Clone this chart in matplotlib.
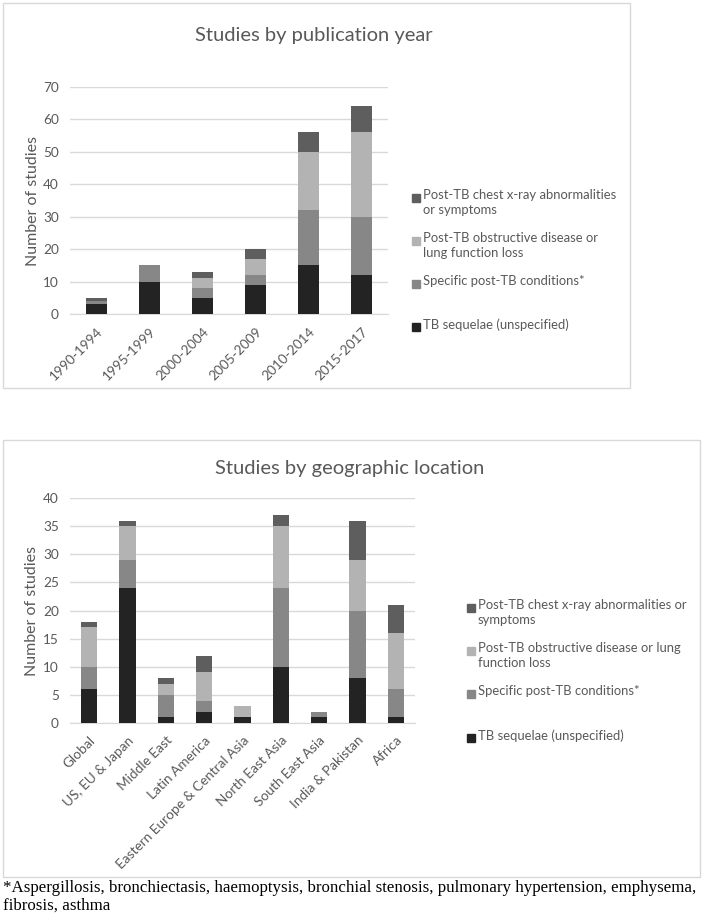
import matplotlib.pyplot as plt
from matplotlib.patches import Rectangle

# Data
series = ['TB sequelae (unspecified)', 'Specific post-TB conditions*',
          'Post-TB obstructive disease or lung function loss',
          'Post-TB chest x-ray abnormalities or symptoms']
colors = ['#232323', '#878787', '#b3b3b3', '#5e5e5e']

years = ['1990-1994', '1995-1999', '2000-2004', '2005-2009', '2010-2014', '2015-2017']
yr_sequelae = [3, 10, 5, 9, 15, 12]
yr_specific = [1, 5, 3, 3, 17, 18]
yr_obstructive = [0, 0, 3, 5, 18, 26]
yr_xray = [1, 0, 2, 3, 6, 8]

regions = ['Global', 'US, EU & Japan', 'Middle East', 'Latin America',
           'Eastern Europe & Central Asia', 'North East Asia', 'South East Asia',
           'India & Pakistan', 'Africa']
rg_sequelae = [6, 24, 1, 2, 1, 10, 1, 8, 1]
rg_specific = [4, 5, 4, 2, 0, 14, 1, 12, 5]
rg_obstructive = [7, 6, 2, 5, 2, 11, 0, 9, 10]
rg_xray = [1, 1, 1, 3, 0, 2, 0, 7, 5]

top_legend = ['Post-TB chest x-ray abnormalities\nor symptoms',
              'Post-TB obstructive disease or\nlung function loss',
              'Specific post-TB conditions*',
              'TB sequelae (unspecified)']
bot_legend = ['Post-TB chest x-ray abnormalities or\nsymptoms',
              'Post-TB obstructive disease or lung\nfunction loss',
              'Specific post-TB conditions*',
              'TB sequelae (unspecified)']
footnote = ('*Aspergillosis, bronchiectasis, haemoptysis, bronchial stenosis, '
            'pulmonary hypertension, emphysema,\nfibrosis, asthma')

W, H = 703, 921
txt = '#595959'
grid = '#d9d9d9'
plt.rcParams['font.family'] = ['Lato', 'DejaVu Sans']

fig = plt.figure(figsize=(W / 100, H / 100), dpi=100)


def fx(px):
    return px / W


def fy(py):
    return 1 - py / H


def frame(x0, y0, x1, y1):
    fig.patches.append(Rectangle((fx(x0), fy(y1)), fx(x1 - x0), (y1 - y0) / H,
                                 transform=fig.transFigure, fill=False,
                                 edgecolor=grid, lw=1))


def stacked(ax, cats, stacks, ymax, step, width):
    x = range(len(cats))
    bottom = [0] * len(cats)
    for vals, col in zip(stacks, colors):
        ax.bar(x, vals, width, bottom=bottom, color=col, zorder=3)
        bottom = [b + v for b, v in zip(bottom, vals)]
    ax.set_xlim(-0.5, len(cats) - 0.5)
    ax.set_ylim(0, ymax)
    ax.set_yticks(range(0, ymax + 1, step))
    ax.set_xticks(list(x))
    ax.set_xticklabels(cats, rotation=45, ha='right', rotation_mode='anchor')
    ax.grid(axis='y', color=grid, lw=1, zorder=0)
    for s in ['top', 'right', 'left']:
        ax.spines[s].set_visible(False)
    ax.spines['bottom'].set_color(grid)
    ax.tick_params(length=0, colors=txt, labelsize=9.8, pad=8)
    ax.set_ylabel('Number of studies', color=txt, fontsize=11.5)


def legend(x, ys, labels):
    for y, lab, col in zip(ys, labels, colors[::-1]):
        fig.patches.append(Rectangle((fx(x), fy(y + 5)), fx(8), 8 / H,
                                     transform=fig.transFigure, color=col))
        fig.text(fx(x + 11), fy(y - 8), lab, color=txt, fontsize=9.4,
                 va='top', ha='left', linespacing=1.3)


# Top chart
frame(3, 3, 630, 388)
ax1 = fig.add_axes([fx(70), fy(314), fx(318), 227 / H])
stacked(ax1, years, [yr_sequelae, yr_specific, yr_obstructive, yr_xray], 70, 10, 0.4)
ax1.yaxis.set_label_coords(-0.095, 0.5)
fig.text(fx(314), fy(35), 'Studies by publication year', ha='center', va='center',
         color=txt, fontsize=14.5)
legend(412, [197, 240, 283, 326], top_legend)

# Bottom chart
frame(3, 440, 700, 877)
ax2 = fig.add_axes([fx(70), fy(723), fx(345), 225 / H])
stacked(ax2, regions, [rg_sequelae, rg_specific, rg_obstructive, rg_xray], 40, 5, 0.43)
ax2.yaxis.set_label_coords(-0.09, 0.5)
fig.text(fx(350), fy(468), 'Studies by geographic location', ha='center', va='center',
         color=txt, fontsize=14.5)
legend(467, [607, 650, 693, 737], bot_legend)

# Footnote
fig.text(fx(3), fy(880), footnote, ha='left', va='top', fontsize=12.2,
         family='Liberation Serif', color='black', linespacing=1.1)

fig.savefig('out.png', dpi=100)
